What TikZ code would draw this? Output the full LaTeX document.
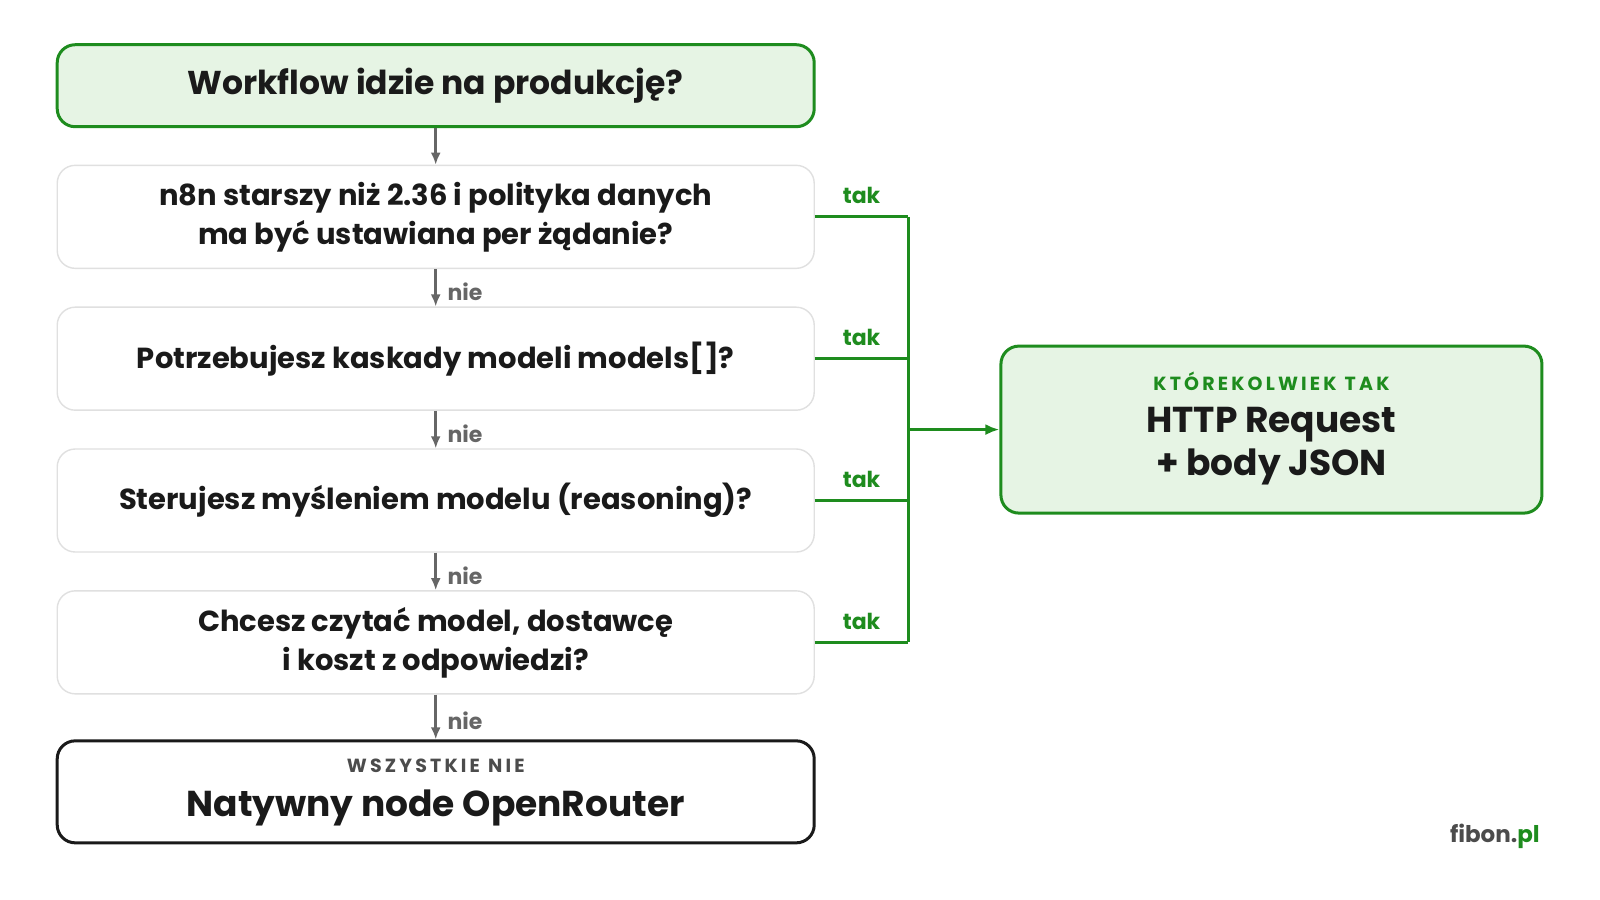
\documentclass[tikz,border=0pt]{standalone}
\usepackage{fontspec}
\setmainfont{Poppins}[BoldFont={* Bold}]
\usetikzlibrary{arrows.meta}
\definecolor{gr}{HTML}{1E8C1E}
\definecolor{lg}{HTML}{E6F4E4}
\definecolor{tx}{HTML}{1A1A1A}
\begin{document}
\begin{tikzpicture}[x=1.0204pt,y=-1.0204pt,
 q/.style={draw=black!12,line width=1.4pt,fill=white,rounded corners=18pt,minimum width=757pt,minimum height=103pt,align=center,font=\fontsize{29}{39}\selectfont\bfseries,text=tx},
 arr/.style={-{Latex[length=12pt,width=10pt]},line width=3pt,draw=black!60},
 lab/.style={font=\fontsize{22}{24}\selectfont\bfseries},
 yes/.style={line width=3pt,draw=gr}]
\fill[white] (0,0) rectangle (1568,882);
\useasboundingbox (0,0) rectangle (1568,882);
\node[q,draw=gr,fill=lg,line width=3pt,minimum height=82pt,font=\fontsize{33}{36}\selectfont\bfseries] (t) at (427,84) {Workflow idzie na produkcję?};
\node[q] (a) at (427,212.5) {n8n starszy niż 2.36 i polityka danych\\ma być ustawiana per żądanie?};
\node[q] (b) at (427,351.5) {Potrzebujesz kaskady modeli models[]?};
\node[q] (c) at (427,490.5) {Sterujesz myśleniem modelu (reasoning)?};
\node[q] (d) at (427,629.5) {Chcesz czytać model, dostawcę\\i koszt z odpowiedzi?};
\node[q,draw=tx,line width=3pt,minimum height=102pt] (e) at (427,776) {};
\node[font=\fontsize{19}{20}\selectfont\bfseries,text=black!70] (e1) at (427,750) {W\,S\,Z\,Y\,S\,T\,K\,I\,E\ \ N\,I\,E};
\node[font=\fontsize{36}{38}\selectfont\bfseries,text=tx] (e2) at (427,792) {Natywny node OpenRouter};
\node[q,draw=gr,fill=lg,line width=3pt,minimum width=541pt,minimum height=167pt] (h) at (1246,421) {};
\node[font=\fontsize{19}{20}\selectfont\bfseries,text=gr] (h1) at (1246,374) {K\,T\,Ó\,R\,E\,K\,O\,L\,W\,I\,E\,K\ \ T\,A\,K};
\node[font=\fontsize{36}{43}\selectfont\bfseries,text=tx,align=center] (h2) at (1246,437) {HTTP Request\\+ body JSON};
\draw[arr] (t) -- (a);
\foreach \u/\v in {a/b,b/c,c/d,d/e}{
 \draw[arr] (\u) -- node[right,lab,text=black!60,xshift=7pt,yshift=-4pt]{nie} (\v);}
\coordinate (j) at (890,421);
\foreach \u in {a,b,c,d}{
 \draw[yes] (\u.east) -- node[above,lab,text=gr,yshift=8pt]{tak} (\u.east -| j);}
\draw[yes] (a.east -| j) -- (d.east -| j);
\draw[yes,-{Latex[length=14pt,width=11pt]}] (j) -- (h.west);
\node[font=\fontsize{23}{24}\selectfont\bfseries,text=black!70] (f) at (1465,820) {fibon.\textcolor{gr}{pl}};
\end{tikzpicture}
\end{document}
